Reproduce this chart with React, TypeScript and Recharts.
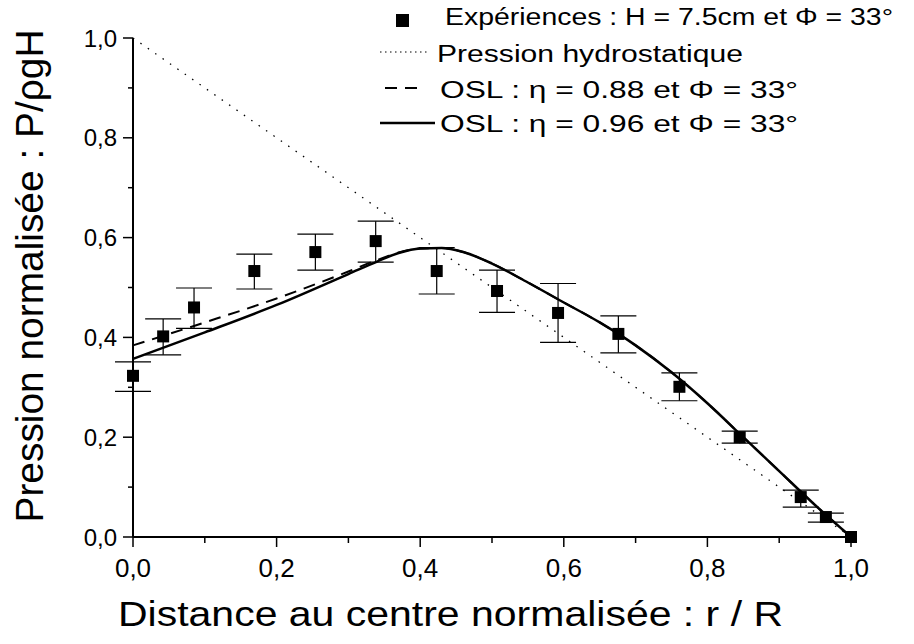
import { ComposedChart, Line, Scatter, ErrorBar, XAxis, YAxis, Legend, Label } from "recharts";

const expX = [0, 0.042, 0.085, 0.169, 0.254, 0.338, 0.423, 0.507, 0.592, 0.676, 0.761, 0.845, 0.93, 0.965, 1.0];
const expY = [0.323, 0.402, 0.46, 0.533, 0.571, 0.593, 0.533, 0.493, 0.449, 0.407, 0.301, 0.2, 0.08, 0.04, 0.0];
const expLo = [0.292, 0.365, 0.418, 0.497, 0.535, 0.551, 0.487, 0.45, 0.39, 0.369, 0.273, 0.188, 0.06, 0.03, 0.0];
const expHi = [0.351, 0.437, 0.499, 0.567, 0.607, 0.633, 0.58, 0.535, 0.508, 0.443, 0.329, 0.212, 0.094, 0.048, 0.0];

// OSL models
const oslX = [0, 0.1, 0.2, 0.3, 0.34, 0.37, 0.4, 0.43, 0.46, 0.5, 0.55, 0.6, 0.65, 0.7, 0.75, 0.8, 0.85, 0.9, 0.95, 1.0];
const osl096 = [0.357, 0.41, 0.465, 0.527, 0.552, 0.569, 0.578, 0.579, 0.571, 0.548, 0.51, 0.47, 0.43, 0.384, 0.33, 0.268, 0.2, 0.132, 0.064, 0];
const osl088 = [0.384, 0.43, 0.478, 0.532, 0.555, 0.57, 0.578, 0.579, 0.571, 0.548, 0.51, 0.47, 0.43, 0.384, 0.33, 0.268, 0.2, 0.132, 0.064, 0];

// hydrostatic pressure
const hydroX = [0, 1];
const hydroY = [1, 0];

const ticks = [0, 0.1, 0.2, 0.3, 0.4, 0.5, 0.6, 0.7, 0.8, 0.9, 1.0];

const FONT = "'Liberation Sans', Arial, sans-serif";

const expData = expX.map((x, i) => ({
  x,
  y: expY[i],
  err: expHi[i] > expLo[i] ? [expY[i] - expLo[i], expHi[i] - expY[i]] : undefined,
}));
const d096 = oslX.map((x, i) => ({ x, y: osl096[i] }));
const d088 = oslX.map((x, i) => ({ x, y: osl088[i] }));
const dHydro = hydroX.map((x, i) => ({ x, y: hydroY[i] }));

const fmt = (v: number) => v.toFixed(1).replace(".", ",");
const isMajor = (v: number) => Math.round(v * 10) % 2 === 0;

function YTick(props: any) {
  const { x, y, payload } = props;
  const major = isMajor(payload.value);
  return (
    <g>
      <line x1={x - (major ? 10 : 5)} x2={x} y1={y} y2={y} stroke="#000" strokeWidth={1.5} />
      {major && (
        <text x={x - 16} y={y + 8.5} textAnchor="end" fontSize={24} fontFamily={FONT} fill="#000">
          {fmt(payload.value)}
        </text>
      )}
    </g>
  );
}

function XTick(props: any) {
  const { x, y, payload } = props;
  const major = isMajor(payload.value);
  return (
    <g>
      <line x1={x} x2={x} y1={y} y2={y + (major ? 10 : 6)} stroke="#000" strokeWidth={1.5} />
      {major && (
        <text x={x} y={y + 40} textAnchor="middle" fontSize={26} fontFamily={FONT} fill="#000">
          {fmt(payload.value)}
        </text>
      )}
    </g>
  );
}

const Square = (p: any) => <rect x={p.cx - 6} y={p.cy - 6} width={12} height={12} fill="#000" />;

function LegendBox() {
  const t = { fontSize: 23, fontFamily: FONT, fill: "#000", lengthAdjust: "spacingAndGlyphs" as const };
  return (
    <svg width={914} height={140} style={{ display: "block" }}>
      <rect x={396} y={14} width={13} height={13} fill="#000" />
      <text x={445} y={25} textLength={448} {...t}>Expériences : H = 7.5cm et Φ = 33°</text>
      <line x1={380} x2={430} y1={52} y2={52} stroke="#000" strokeWidth={1.2} strokeDasharray="1.5 3.5" />
      <text x={437} y={62} textLength={306} {...t}>Pression hydrostatique</text>
      <line x1={385} x2={421} y1={88} y2={88} stroke="#000" strokeWidth={2} strokeDasharray="12 8" />
      <text x={440} y={98} textLength={358} {...t}>OSL : η = 0.88 et Φ = 33°</text>
      <line x1={380} x2={435} y1={123} y2={123} stroke="#000" strokeWidth={2.5} />
      <text x={440} y={132} textLength={358} {...t}>OSL : η = 0.96 et Φ = 33°</text>
    </svg>
  );
}

const XTitle = () => (
  <text x={118} y={626} textLength={665} lengthAdjust="spacingAndGlyphs" fontSize={35} fontFamily={FONT} fill="#000">
    Distance au centre normalisée : r / R
  </text>
);

const YTitle = () => (
  <text
    x={43}
    y={276}
    transform="rotate(-90, 43, 276)"
    textAnchor="middle"
    textLength={493}
    lengthAdjust="spacingAndGlyphs"
    fontSize={39}
    fontFamily={FONT}
    fill="#000"
  >
    Pression normalisée : P/ρgH
  </text>
);

export default function App() {
  return (
    <div style={{ position: "absolute", left: 0, top: 0, width: 914, height: 644, background: "#fff" }}>
      <ComposedChart width={914} height={644} margin={{ top: 38, right: 63, bottom: 0, left: 0 }}>
        <XAxis
          dataKey="x"
          type="number"
          domain={[0, 1]}
          ticks={ticks}
          height={107}
          tickSize={0}
          tickMargin={0}
          tickLine={false}
          tick={<XTick />}
          axisLine={{ stroke: "#000", strokeWidth: 2 }}
          interval={0}
        >
          <Label content={<XTitle />} />
        </XAxis>
        <YAxis
          dataKey="y"
          type="number"
          domain={[0, 1]}
          ticks={ticks}
          width={133}
          tickSize={0}
          tickMargin={0}
          tickLine={false}
          tick={<YTick />}
          axisLine={{ stroke: "#000", strokeWidth: 2 }}
          interval={0}
        >
          <Label content={<YTitle />} />
        </YAxis>
        <Legend
          layout="horizontal"
          verticalAlign="middle"
          align="center"
          content={() => <LegendBox />}
          wrapperStyle={{ position: "absolute", top: 0, left: 0, width: 914, height: 140 }}
        />
        <Line data={dHydro} dataKey="y" type="linear" stroke="#000" strokeWidth={1.3} strokeDasharray="1.5 7.5" dot={false} isAnimationActive={false} legendType="none" />
        <Line data={d088} dataKey="y" type="monotone" stroke="#000" strokeWidth={2} strokeDasharray="12 8" dot={false} isAnimationActive={false} />
        <Line data={d096} dataKey="y" type="monotone" stroke="#000" strokeWidth={2.5} dot={false} isAnimationActive={false} />
        <Scatter data={expData} dataKey="y" shape={Square} isAnimationActive={false}>
          <ErrorBar dataKey="err" direction="y" width={18} stroke="#000" strokeWidth={1.2} isAnimationActive={false} />
        </Scatter>
      </ComposedChart>
    </div>
  );
}
